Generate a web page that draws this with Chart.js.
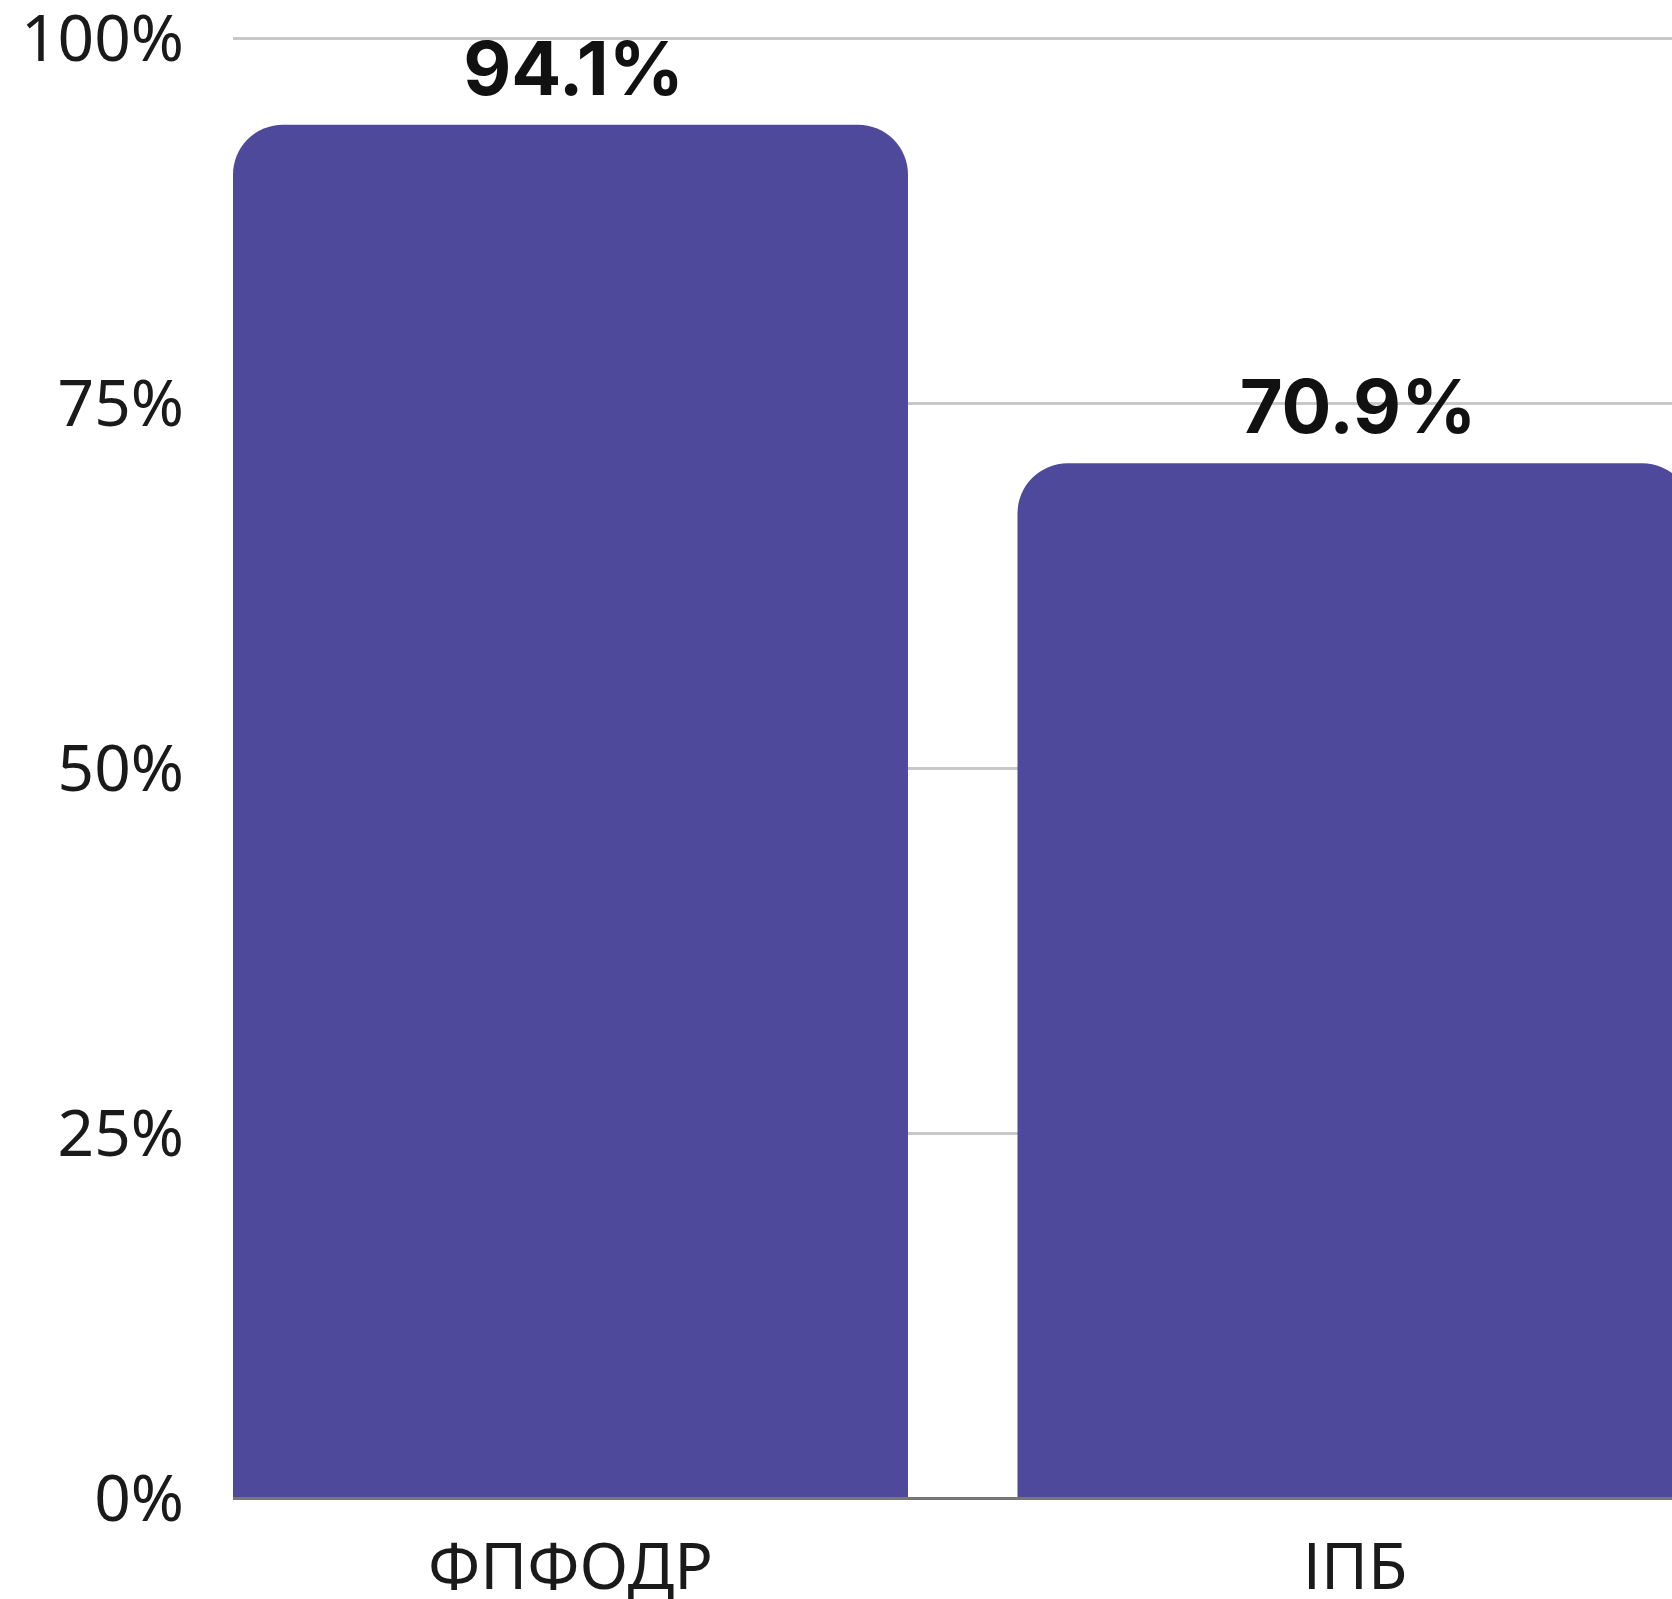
<!DOCTYPE html>
<html>
<head>
<meta charset="utf-8">
<script src="https://cdn.jsdelivr.net/npm/chart.js@4.4.1/dist/chart.umd.min.js"></script>
<style>
  html, body { margin: 0; padding: 0; background: #ffffff; overflow: hidden; }
  #wrap { position: relative; width: 1672px; height: 1599px; }
</style>
</head>
<body>
<div id="wrap"><canvas id="chart" width="1672" height="1599"></canvas></div>
<script>
// ---- data ----
const categories = ["ФПФОДР", "ІПБ"];
const values = [94.1, 70.9];
const yTickValues = [0, 25, 50, 75, 100];

// ---- styles ----
const BAR_COLOR = "#4e499b";
const GRID_COLOR = "#c8c8c8";
const AXIS_COLOR = "#777777";
const TEXT_COLOR = "#1a1a1a";

const points = categories.map((c, i) => ({ x: i, y: values[i] }));

const valueLabelPlugin = {
  id: "valueLabels",
  afterDatasetsDraw(chart) {
    const ctx = chart.ctx;
    const meta = chart.getDatasetMeta(0);
    ctx.save();
    ctx.font = "700 74px Inter, 'Open Sans', sans-serif";
    ctx.fillStyle = "#111111";
    ctx.textAlign = "center";
    ctx.textBaseline = "alphabetic";
    meta.data.forEach((el, i) => {
      ctx.fillText(values[i].toFixed(1) + "%", el.x + 3, el.y - 30);
    });
    ctx.restore();
  }
};

new Chart(document.getElementById("chart"), {
  type: "bar",
  data: {
    datasets: [{
      data: points,
      backgroundColor: BAR_COLOR,
      borderWidth: 0,
      borderRadius: { topLeft: 50, topRight: 50, bottomLeft: 0, bottomRight: 0 },
      borderSkipped: "start",
      categoryPercentage: 1,
      barPercentage: 0.8604
    }]
  },
  options: {
    responsive: false,
    animation: false,
    devicePixelRatio: 1,
    layout: { padding: 0 },
    plugins: {
      legend: { display: false },
      tooltip: { enabled: false }
    },
    scales: {
      x: {
        type: "linear",
        offset: false,
        min: -0.4302,
        max: 1.4041,
        grid: { display: false, drawTicks: false, offset: false },
        border: { display: false },
        afterBuildTicks(scale) {
          scale.ticks = categories.map((c, i) => ({ value: i }));
        },
        afterFit(scale) {
          scale.height = 100.5;
          scale.paddingLeft = 0;
          scale.paddingRight = 0;
        },
        ticks: {
          autoSkip: false,
          maxRotation: 0,
          padding: 34,
          color: TEXT_COLOR,
          font: { family: "'Noto Sans'", size: 64, lineHeight: 1.2 },
          callback: (v) => categories[v] ?? ""
        }
      },
      y: {
        min: 0,
        max: 100,
        afterBuildTicks(scale) {
          scale.ticks = yTickValues.map(v => ({ value: v }));
        },
        afterFit(scale) {
          scale.width = 233;
          scale.paddingTop = 38.5;
          scale.paddingBottom = 0;
        },
        grid: {
          drawTicks: false,
          color: (ctx) => (ctx.tick && ctx.tick.value === 0 ? AXIS_COLOR : GRID_COLOR),
          lineWidth: 3
        },
        border: { display: false },
        ticks: {
          padding: 49,
          labelOffset: 4,
          color: TEXT_COLOR,
          font: { family: "'Noto Sans'", size: 64, lineHeight: 77 / 64 },
          callback: (v) => v + "%"
        }
      }
    }
  },
  plugins: [valueLabelPlugin]
});
</script>
</body>
</html>
